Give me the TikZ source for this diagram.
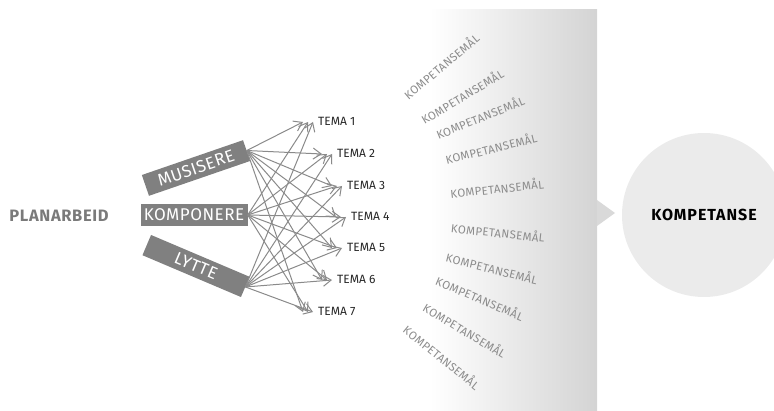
\documentclass[tikz,border=0pt]{standalone}
\usepackage{fontspec}
\setmainfont{Fira Sans}
\usetikzlibrary{arrows.meta,calc}
\definecolor{boxgray}{HTML}{808080}
\definecolor{linegray}{HTML}{8A8A8A}

\begin{document}
\begin{tikzpicture}[x=1pt,y=-1pt,
  box/.style={fill=boxgray,text=white,minimum width=107pt,minimum height=22pt,
    inner sep=0pt,font=\fontsize{17}{17}\selectfont\addfontfeature{LetterSpace=3}},
  tema/.style={anchor=west,inner sep=0pt,text=black!85,font=\fontsize{12}{12}\selectfont},
  goal/.style={inner sep=0pt,text=black!45,font=\fontsize{11.5}{11.5}\selectfont\addfontfeature{LetterSpace=3}},
  link/.style={draw=linegray,line width=1pt,-{Straight Barb[length=8pt,width=11pt]}}]
\useasboundingbox (0,0) rectangle (774,411);
\clip (0,0) rectangle (774,411);

% panel with the goals
\shade[left color=white,middle color=black!4,right color=black!17] (430,10) rectangle (597,411);
\fill[black!15] (597,200) -- (615,213) -- (597,226) -- cycle;

\node[circle,fill=black!8,minimum size=164pt,inner sep=0pt,
  font=\bfseries\fontsize{16}{16}\selectfont\addfontfeature{LetterSpace=6}] (kompetanse) at (704,215) {KOMPETANSE};

\node[text=black!52,font=\bfseries\fontsize{16.5}{16.5}\selectfont\addfontfeature{LetterSpace=4}] (plan) at (59,216) {PLANARBEID};

% activities
\node[box,rotate=19]  (musisere)  at (196,168) {MUSISERE};
\node[box]            (komponere) at (194,215) {KOMPONERE};
\node[box,rotate=-23] (lytte)     at (196,266) {LYTTE};

% themes
\node[tema] (t1) at (318,121) {TEMA 1};
\node[tema] (t2) at (337,153) {TEMA 2};
\node[tema] (t3) at (347,185) {TEMA 3};
\node[tema] (t4) at (351,216) {TEMA 4};
\node[tema] (t5) at (347,247) {TEMA 5};
\node[tema] (t6) at (337,279) {TEMA 6};
\node[tema] (t7) at (318,311) {TEMA 7};

\foreach \src/\dx in {musisere/15,komponere/10,lytte/5}
  \foreach \j in {1,...,7}
    \draw[link] (\src.east) -- ($(t\j.west)+(-\dx,1)$);

% goals
\foreach \x/\y/\a [count=\n] in {441/66/40, 462/96/31, 480/117/22, 491/148/14, 497/188/6,
    498/232/-6, 492/268/-14, 480/298/-23, 465/330/-31, 442/357/-39}
  \node[goal,rotate=\a] (goal\n) at (\x,\y) {KOMPETANSEMÅL};
\end{tikzpicture}
\end{document}
